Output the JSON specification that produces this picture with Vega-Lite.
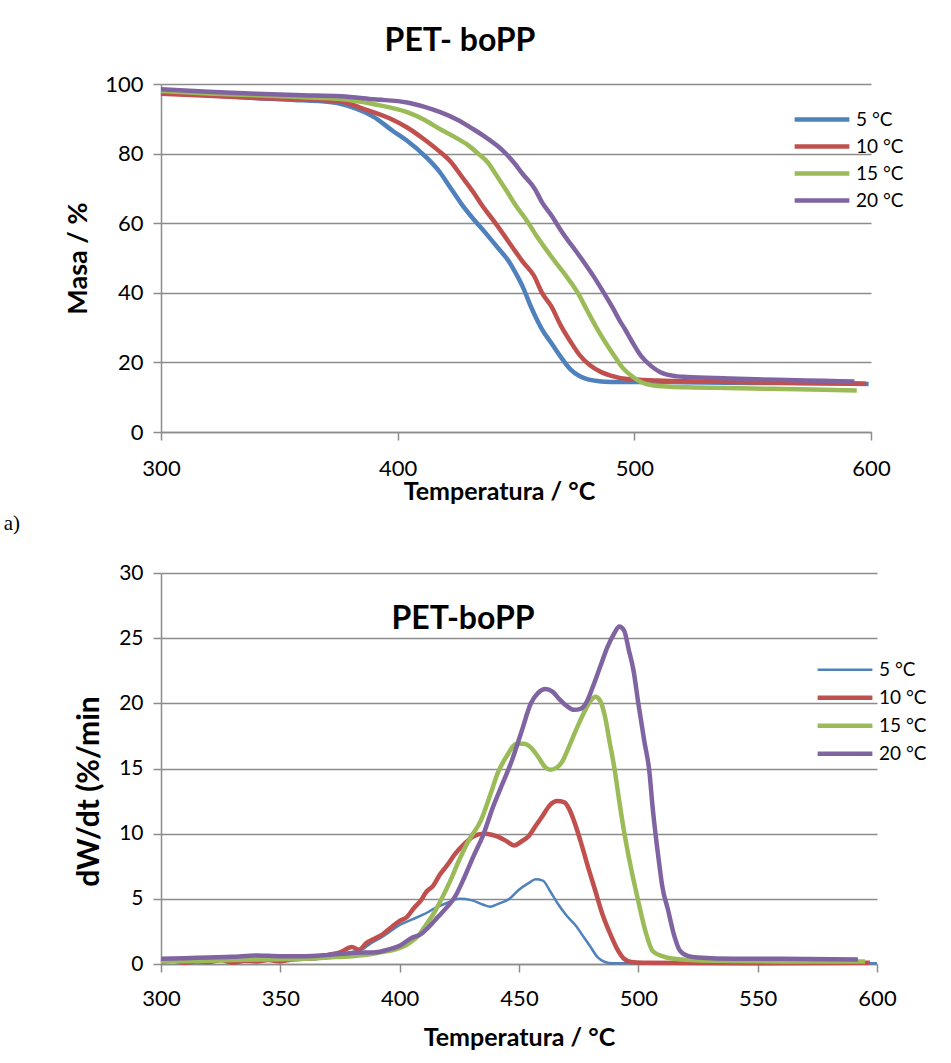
{
"$schema": "https://vega.github.io/schema/vega-lite/v6.json",
"padding": {"left": 3, "top": 25, "right": 0, "bottom": 5},
"background": "white",
"config": {
  "font": "Lato",
  "view": {"stroke": null},
  "axis": {"gridColor": "#8c8c8c", "gridWidth": 1.5, "domainColor": "#8c8c8c", "domainWidth": 1.5, "tickColor": "#8c8c8c", "tickWidth": 1.5, "tickSize": 8, "labelFont": "Lato", "labelColor": "#000", "titleFont": "Lato", "titleFontWeight": "bold", "titleColor": "#000"},
  "legend": {"labelFont": "Lato", "labelFontSize": 19, "labelColor": "#000", "symbolType": "stroke", "title": null}
},
"datasets": {
"mass": [
{"T":300,"v":97.5,"s":"5 °C"},{"T":320,"v":96.8,"s":"5 °C"},{"T":340,"v":96.0,"s":"5 °C"},{"T":360,"v":95.3,"s":"5 °C"},{"T":373,"v":94.7,"s":"5 °C"},{"T":380,"v":93.5,"s":"5 °C"},{"T":390,"v":90.5,"s":"5 °C"},{"T":398,"v":86.5,"s":"5 °C"},{"T":404,"v":83.7,"s":"5 °C"},{"T":412,"v":79,"s":"5 °C"},{"T":418,"v":74.5,"s":"5 °C"},{"T":422,"v":70.5,"s":"5 °C"},{"T":427,"v":65.5,"s":"5 °C"},{"T":432,"v":61.2,"s":"5 °C"},{"T":437,"v":57.3,"s":"5 °C"},{"T":442,"v":53.2,"s":"5 °C"},{"T":447,"v":49,"s":"5 °C"},{"T":450,"v":45.5,"s":"5 °C"},{"T":453,"v":41.5,"s":"5 °C"},{"T":456,"v":36.5,"s":"5 °C"},{"T":458,"v":33.5,"s":"5 °C"},{"T":461,"v":29.5,"s":"5 °C"},{"T":465,"v":25.5,"s":"5 °C"},{"T":469,"v":21.5,"s":"5 °C"},{"T":473,"v":18,"s":"5 °C"},{"T":477,"v":16,"s":"5 °C"},{"T":480,"v":15.2,"s":"5 °C"},{"T":485,"v":14.6,"s":"5 °C"},{"T":490,"v":14.4,"s":"5 °C"},{"T":500,"v":14.4,"s":"5 °C"},{"T":520,"v":14.3,"s":"5 °C"},{"T":550,"v":14.1,"s":"5 °C"},{"T":575,"v":14.0,"s":"5 °C"},{"T":599,"v":13.8,"s":"5 °C"},
{"T":300,"v":97.2,"s":"10 °C"},{"T":320,"v":96.6,"s":"10 °C"},{"T":340,"v":96.0,"s":"10 °C"},{"T":360,"v":95.6,"s":"10 °C"},{"T":376,"v":95.0,"s":"10 °C"},{"T":385,"v":93.0,"s":"10 °C"},{"T":397,"v":90,"s":"10 °C"},{"T":404,"v":87.5,"s":"10 °C"},{"T":411,"v":84.2,"s":"10 °C"},{"T":417,"v":81,"s":"10 °C"},{"T":422.5,"v":77.6,"s":"10 °C"},{"T":427,"v":73.5,"s":"10 °C"},{"T":432,"v":68.9,"s":"10 °C"},{"T":436,"v":64.8,"s":"10 °C"},{"T":441,"v":60.3,"s":"10 °C"},{"T":445,"v":56.5,"s":"10 °C"},{"T":449,"v":52.6,"s":"10 °C"},{"T":453,"v":48.8,"s":"10 °C"},{"T":457.6,"v":44.9,"s":"10 °C"},{"T":461,"v":40,"s":"10 °C"},{"T":465,"v":36,"s":"10 °C"},{"T":469,"v":30.5,"s":"10 °C"},{"T":473,"v":26,"s":"10 °C"},{"T":477,"v":22,"s":"10 °C"},{"T":481,"v":19.3,"s":"10 °C"},{"T":486,"v":17.2,"s":"10 °C"},{"T":490,"v":16.2,"s":"10 °C"},{"T":497,"v":15.2,"s":"10 °C"},{"T":510,"v":14.8,"s":"10 °C"},{"T":540,"v":14.4,"s":"10 °C"},{"T":570,"v":14.1,"s":"10 °C"},{"T":598,"v":13.9,"s":"10 °C"},
{"T":300,"v":98.0,"s":"15 °C"},{"T":320,"v":97.3,"s":"15 °C"},{"T":340,"v":96.8,"s":"15 °C"},{"T":360,"v":96.2,"s":"15 °C"},{"T":376,"v":95.7,"s":"15 °C"},{"T":390,"v":94.2,"s":"15 °C"},{"T":404,"v":91.9,"s":"15 °C"},{"T":411,"v":89.8,"s":"15 °C"},{"T":418,"v":87,"s":"15 °C"},{"T":424,"v":84.8,"s":"15 °C"},{"T":430,"v":82.3,"s":"15 °C"},{"T":434,"v":80,"s":"15 °C"},{"T":438,"v":77.5,"s":"15 °C"},{"T":442,"v":73.5,"s":"15 °C"},{"T":446,"v":69.3,"s":"15 °C"},{"T":450,"v":65,"s":"15 °C"},{"T":455,"v":60.3,"s":"15 °C"},{"T":459,"v":56,"s":"15 °C"},{"T":463,"v":52.2,"s":"15 °C"},{"T":467,"v":48.5,"s":"15 °C"},{"T":471,"v":45,"s":"15 °C"},{"T":476,"v":40.1,"s":"15 °C"},{"T":480,"v":35,"s":"15 °C"},{"T":484,"v":30,"s":"15 °C"},{"T":488,"v":25.5,"s":"15 °C"},{"T":491.5,"v":21.9,"s":"15 °C"},{"T":495,"v":18.5,"s":"15 °C"},{"T":499,"v":16,"s":"15 °C"},{"T":503,"v":14.3,"s":"15 °C"},{"T":507,"v":13.5,"s":"15 °C"},{"T":515,"v":13.0,"s":"15 °C"},{"T":525,"v":12.8,"s":"15 °C"},{"T":550,"v":12.5,"s":"15 °C"},{"T":575,"v":12.2,"s":"15 °C"},{"T":594,"v":11.9,"s":"15 °C"},
{"T":300,"v":98.5,"s":"20 °C"},{"T":320,"v":97.8,"s":"20 °C"},{"T":340,"v":97.2,"s":"20 °C"},{"T":360,"v":96.8,"s":"20 °C"},{"T":376,"v":96.5,"s":"20 °C"},{"T":390,"v":95.6,"s":"20 °C"},{"T":404,"v":94.7,"s":"20 °C"},{"T":411,"v":93.5,"s":"20 °C"},{"T":418,"v":91.9,"s":"20 °C"},{"T":425,"v":89.8,"s":"20 °C"},{"T":432,"v":87,"s":"20 °C"},{"T":437,"v":84.8,"s":"20 °C"},{"T":442,"v":82.3,"s":"20 °C"},{"T":446,"v":79.8,"s":"20 °C"},{"T":449,"v":77.5,"s":"20 °C"},{"T":453,"v":74,"s":"20 °C"},{"T":458,"v":69.8,"s":"20 °C"},{"T":461,"v":66,"s":"20 °C"},{"T":465,"v":62.2,"s":"20 °C"},{"T":469,"v":57.9,"s":"20 °C"},{"T":472,"v":55,"s":"20 °C"},{"T":475,"v":52.3,"s":"20 °C"},{"T":479,"v":48.5,"s":"20 °C"},{"T":483,"v":44.5,"s":"20 °C"},{"T":487,"v":40.1,"s":"20 °C"},{"T":491,"v":35.5,"s":"20 °C"},{"T":494,"v":31.8,"s":"20 °C"},{"T":496,"v":29.6,"s":"20 °C"},{"T":499,"v":26,"s":"20 °C"},{"T":503,"v":21.7,"s":"20 °C"},{"T":507,"v":19,"s":"20 °C"},{"T":511,"v":17.2,"s":"20 °C"},{"T":516,"v":16.2,"s":"20 °C"},{"T":522,"v":15.8,"s":"20 °C"},{"T":540,"v":15.4,"s":"20 °C"},{"T":560,"v":15,"s":"20 °C"},{"T":580,"v":14.7,"s":"20 °C"},{"T":593,"v":14.5,"s":"20 °C"}
],
"dtg": [
{"T":300,"v":0.2,"s":"5 °C"},{"T":310,"v":0.25,"s":"5 °C"},{"T":320,"v":0.2,"s":"5 °C"},{"T":330,"v":0.3,"s":"5 °C"},{"T":340,"v":0.25,"s":"5 °C"},{"T":350,"v":0.3,"s":"5 °C"},{"T":360,"v":0.35,"s":"5 °C"},{"T":370,"v":0.45,"s":"5 °C"},{"T":375,"v":0.6,"s":"5 °C"},{"T":380,"v":0.9,"s":"5 °C"},{"T":385,"v":1.2,"s":"5 °C"},{"T":388,"v":1.6,"s":"5 °C"},{"T":392,"v":2.0,"s":"5 °C"},{"T":396,"v":2.5,"s":"5 °C"},{"T":400,"v":3.0,"s":"5 °C"},{"T":405,"v":3.4,"s":"5 °C"},{"T":410,"v":3.8,"s":"5 °C"},{"T":415,"v":4.3,"s":"5 °C"},{"T":420,"v":4.7,"s":"5 °C"},{"T":425,"v":5.0,"s":"5 °C"},{"T":430,"v":4.9,"s":"5 °C"},{"T":435,"v":4.55,"s":"5 °C"},{"T":438,"v":4.4,"s":"5 °C"},{"T":441,"v":4.6,"s":"5 °C"},{"T":446,"v":5.0,"s":"5 °C"},{"T":450,"v":5.7,"s":"5 °C"},{"T":454,"v":6.2,"s":"5 °C"},{"T":457,"v":6.5,"s":"5 °C"},{"T":460,"v":6.4,"s":"5 °C"},{"T":463,"v":5.6,"s":"5 °C"},{"T":466,"v":4.7,"s":"5 °C"},{"T":470,"v":3.7,"s":"5 °C"},{"T":474,"v":2.9,"s":"5 °C"},{"T":477,"v":2.1,"s":"5 °C"},{"T":480,"v":1.3,"s":"5 °C"},{"T":483,"v":0.5,"s":"5 °C"},{"T":486,"v":0.15,"s":"5 °C"},{"T":489,"v":0.05,"s":"5 °C"},{"T":500,"v":0.05,"s":"5 °C"},{"T":550,"v":0.05,"s":"5 °C"},{"T":600,"v":0.05,"s":"5 °C"},
{"T":300,"v":0.15,"s":"10 °C"},{"T":305,"v":0.25,"s":"10 °C"},{"T":310,"v":0.1,"s":"10 °C"},{"T":315,"v":0.2,"s":"10 °C"},{"T":320,"v":0.15,"s":"10 °C"},{"T":325,"v":0.3,"s":"10 °C"},{"T":330,"v":0.1,"s":"10 °C"},{"T":335,"v":0.25,"s":"10 °C"},{"T":340,"v":0.2,"s":"10 °C"},{"T":345,"v":0.3,"s":"10 °C"},{"T":350,"v":0.2,"s":"10 °C"},{"T":355,"v":0.35,"s":"10 °C"},{"T":360,"v":0.4,"s":"10 °C"},{"T":365,"v":0.45,"s":"10 °C"},{"T":370,"v":0.7,"s":"10 °C"},{"T":375,"v":0.9,"s":"10 °C"},{"T":380,"v":1.3,"s":"10 °C"},{"T":383,"v":1.1,"s":"10 °C"},{"T":386,"v":1.6,"s":"10 °C"},{"T":390,"v":2.0,"s":"10 °C"},{"T":393,"v":2.3,"s":"10 °C"},{"T":397,"v":2.9,"s":"10 °C"},{"T":400,"v":3.3,"s":"10 °C"},{"T":403,"v":3.6,"s":"10 °C"},{"T":406,"v":4.3,"s":"10 °C"},{"T":409,"v":4.9,"s":"10 °C"},{"T":411,"v":5.5,"s":"10 °C"},{"T":414,"v":6.0,"s":"10 °C"},{"T":417,"v":6.9,"s":"10 °C"},{"T":420,"v":7.6,"s":"10 °C"},{"T":423,"v":8.4,"s":"10 °C"},{"T":427,"v":9.2,"s":"10 °C"},{"T":431,"v":9.8,"s":"10 °C"},{"T":435,"v":10.0,"s":"10 °C"},{"T":439,"v":9.9,"s":"10 °C"},{"T":442,"v":9.7,"s":"10 °C"},{"T":445,"v":9.4,"s":"10 °C"},{"T":448,"v":9.1,"s":"10 °C"},{"T":451,"v":9.4,"s":"10 °C"},{"T":454,"v":9.8,"s":"10 °C"},{"T":457,"v":10.6,"s":"10 °C"},{"T":460,"v":11.4,"s":"10 °C"},{"T":463,"v":12.2,"s":"10 °C"},{"T":466,"v":12.5,"s":"10 °C"},{"T":469,"v":12.4,"s":"10 °C"},{"T":471,"v":11.9,"s":"10 °C"},{"T":473,"v":11.0,"s":"10 °C"},{"T":476,"v":9.3,"s":"10 °C"},{"T":479,"v":7.4,"s":"10 °C"},{"T":482,"v":5.6,"s":"10 °C"},{"T":485,"v":3.8,"s":"10 °C"},{"T":488,"v":2.4,"s":"10 °C"},{"T":491,"v":1.2,"s":"10 °C"},{"T":494,"v":0.4,"s":"10 °C"},{"T":497,"v":0.15,"s":"10 °C"},{"T":502,"v":0.1,"s":"10 °C"},{"T":550,"v":0.05,"s":"10 °C"},{"T":597,"v":0.1,"s":"10 °C"},
{"T":300,"v":0.2,"s":"15 °C"},{"T":320,"v":0.25,"s":"15 °C"},{"T":340,"v":0.35,"s":"15 °C"},{"T":360,"v":0.4,"s":"15 °C"},{"T":370,"v":0.5,"s":"15 °C"},{"T":380,"v":0.6,"s":"15 °C"},{"T":386,"v":0.7,"s":"15 °C"},{"T":392,"v":0.9,"s":"15 °C"},{"T":398,"v":1.1,"s":"15 °C"},{"T":404,"v":1.6,"s":"15 °C"},{"T":408,"v":2.2,"s":"15 °C"},{"T":411,"v":3.0,"s":"15 °C"},{"T":414,"v":3.8,"s":"15 °C"},{"T":417,"v":4.8,"s":"15 °C"},{"T":421,"v":6.3,"s":"15 °C"},{"T":425,"v":8.0,"s":"15 °C"},{"T":429,"v":9.5,"s":"15 °C"},{"T":434,"v":11.0,"s":"15 °C"},{"T":438,"v":13.0,"s":"15 °C"},{"T":441,"v":14.6,"s":"15 °C"},{"T":445,"v":16.0,"s":"15 °C"},{"T":449,"v":16.9,"s":"15 °C"},{"T":452,"v":16.9,"s":"15 °C"},{"T":455,"v":16.6,"s":"15 °C"},{"T":458,"v":15.9,"s":"15 °C"},{"T":461,"v":15.1,"s":"15 °C"},{"T":463,"v":14.9,"s":"15 °C"},{"T":466,"v":15.1,"s":"15 °C"},{"T":468,"v":15.5,"s":"15 °C"},{"T":471,"v":16.7,"s":"15 °C"},{"T":474,"v":18.0,"s":"15 °C"},{"T":477,"v":19.2,"s":"15 °C"},{"T":480,"v":20.2,"s":"15 °C"},{"T":482,"v":20.5,"s":"15 °C"},{"T":484,"v":20.2,"s":"15 °C"},{"T":486,"v":19.0,"s":"15 °C"},{"T":488,"v":17.0,"s":"15 °C"},{"T":490,"v":15.0,"s":"15 °C"},{"T":492,"v":12.5,"s":"15 °C"},{"T":494,"v":10.2,"s":"15 °C"},{"T":497,"v":7.3,"s":"15 °C"},{"T":500,"v":4.8,"s":"15 °C"},{"T":503,"v":2.5,"s":"15 °C"},{"T":506,"v":1.0,"s":"15 °C"},{"T":510,"v":0.6,"s":"15 °C"},{"T":515,"v":0.4,"s":"15 °C"},{"T":530,"v":0.25,"s":"15 °C"},{"T":560,"v":0.2,"s":"15 °C"},{"T":595,"v":0.2,"s":"15 °C"},
{"T":300,"v":0.4,"s":"20 °C"},{"T":310,"v":0.45,"s":"20 °C"},{"T":320,"v":0.5,"s":"20 °C"},{"T":330,"v":0.55,"s":"20 °C"},{"T":340,"v":0.65,"s":"20 °C"},{"T":350,"v":0.6,"s":"20 °C"},{"T":360,"v":0.6,"s":"20 °C"},{"T":370,"v":0.7,"s":"20 °C"},{"T":380,"v":0.85,"s":"20 °C"},{"T":390,"v":0.9,"s":"20 °C"},{"T":395,"v":1.1,"s":"20 °C"},{"T":400,"v":1.4,"s":"20 °C"},{"T":405,"v":2.0,"s":"20 °C"},{"T":409,"v":2.3,"s":"20 °C"},{"T":412,"v":2.8,"s":"20 °C"},{"T":416,"v":3.6,"s":"20 °C"},{"T":420,"v":4.4,"s":"20 °C"},{"T":423,"v":5.1,"s":"20 °C"},{"T":427,"v":6.6,"s":"20 °C"},{"T":431,"v":8.3,"s":"20 °C"},{"T":435,"v":9.9,"s":"20 °C"},{"T":439,"v":12.0,"s":"20 °C"},{"T":443,"v":13.8,"s":"20 °C"},{"T":447,"v":15.6,"s":"20 °C"},{"T":451,"v":17.8,"s":"20 °C"},{"T":455,"v":20.0,"s":"20 °C"},{"T":458,"v":20.8,"s":"20 °C"},{"T":461,"v":21.1,"s":"20 °C"},{"T":464,"v":20.9,"s":"20 °C"},{"T":467,"v":20.3,"s":"20 °C"},{"T":470,"v":19.8,"s":"20 °C"},{"T":473,"v":19.5,"s":"20 °C"},{"T":476,"v":19.6,"s":"20 °C"},{"T":478,"v":20.0,"s":"20 °C"},{"T":481,"v":21.3,"s":"20 °C"},{"T":484,"v":22.8,"s":"20 °C"},{"T":487,"v":24.3,"s":"20 °C"},{"T":490,"v":25.4,"s":"20 °C"},{"T":492,"v":25.9,"s":"20 °C"},{"T":494,"v":25.6,"s":"20 °C"},{"T":496,"v":24.1,"s":"20 °C"},{"T":498,"v":22.5,"s":"20 °C"},{"T":500,"v":20.0,"s":"20 °C"},{"T":502.5,"v":17.1,"s":"20 °C"},{"T":504.6,"v":14.8,"s":"20 °C"},{"T":506,"v":12.0,"s":"20 °C"},{"T":508.6,"v":7.9,"s":"20 °C"},{"T":510,"v":6.0,"s":"20 °C"},{"T":512.5,"v":4.1,"s":"20 °C"},{"T":515,"v":2.2,"s":"20 °C"},{"T":517.5,"v":1.0,"s":"20 °C"},{"T":521,"v":0.6,"s":"20 °C"},{"T":525,"v":0.5,"s":"20 °C"},{"T":540,"v":0.4,"s":"20 °C"},{"T":560,"v":0.4,"s":"20 °C"},{"T":592,"v":0.35,"s":"20 °C"}
]
},
"spacing": 28,
"vconcat": [
 {
  "title": {"text": "a)", "orient": "bottom", "anchor": "start", "font": "Liberation Serif", "fontSize": 21, "fontWeight": "normal", "dx": -61, "offset": 9},
  "vconcat": [
   {
    "width": 710, "height": 348,
    "title": {"text": "PET- boPP", "font": "Lato", "fontSize": 32, "fontWeight": "bold", "anchor": "middle", "dx": -56, "offset": 15},
    "data": {"name": "mass"},
    "mark": {"type": "line", "strokeWidth": 4.5, "interpolate": "monotone"},
    "encoding": {
      "x": {"field": "T", "type": "quantitative", "scale": {"domain": [300, 600]}, "axis": {"values": [300, 400, 500, 600], "grid": false, "labelFlush": false, "labelFontSize": 22, "labelPadding": 18, "title": "Temperatura / °C", "titleFontSize": 25, "titlePadding": 0, "titleX": 338, "titleAnchor": "middle"}},
      "y": {"field": "v", "type": "quantitative", "scale": {"domain": [0, 100]}, "axis": {"values": [0, 20, 40, 60, 80, 100], "labelFontSize": 22, "labelPadding": 10, "title": "Masa / %", "titleFontSize": 27, "titlePadding": 12}},
      "color": {"field": "s", "type": "nominal", "sort": ["5 °C", "10 °C", "15 °C", "20 °C"], "scale": {"domain": ["5 °C", "10 °C", "15 °C", "20 °C"], "range": ["#4F81BD", "#C0504D", "#9BBB59", "#8064A2"]}, "legend": {"orient": "none", "legendX": 631, "legendY": 22, "symbolSize": 3000, "symbolStrokeWidth": 4.5, "clipHeight": 27, "rowPadding": 0, "labelOffset": 4}}
    }
   }
  ]
 },
 {
  "width": 716, "height": 391,
  "title": {"text": "PET-boPP", "font": "Lato", "fontSize": 32, "fontWeight": "bold", "anchor": "middle", "dx": -56, "offset": -74},
  "data": {"name": "dtg"},
  "mark": {"type": "line", "interpolate": "monotone"},
  "encoding": {
    "x": {"field": "T", "type": "quantitative", "scale": {"domain": [300, 600]}, "axis": {"values": [300, 350, 400, 450, 500, 550, 600], "grid": false, "labelFlush": false, "labelFontSize": 22, "labelPadding": 16, "title": "Temperatura / °C", "titleFontSize": 25, "titlePadding": 16}},
    "y": {"field": "v", "type": "quantitative", "scale": {"domain": [0, 30]}, "axis": {"values": [0, 5, 10, 15, 20, 25, 30], "labelFontSize": 21, "labelPadding": 10, "title": "dW/dt (%/min", "titleFontSize": 30, "titlePadding": 14, "titleY": 218}},
    "color": {"field": "s", "type": "nominal", "sort": ["5 °C", "10 °C", "15 °C", "20 °C"], "scale": {"domain": ["5 °C", "10 °C", "15 °C", "20 °C"], "range": ["#4F81BD", "#C0504D", "#9BBB59", "#8064A2"]}, "legend": {"orient": "none", "legendX": 654, "legendY": 83, "symbolSize": 3000, "clipHeight": 27.5, "rowPadding": 0, "labelOffset": 4}},
    "strokeWidth": {"field": "s", "type": "nominal", "sort": ["5 °C", "10 °C", "15 °C", "20 °C"], "scale": {"type": "ordinal", "domain": ["5 °C", "10 °C", "15 °C", "20 °C"], "range": [2.5, 4.5, 4.5, 4.5]}, "legend": {"orient": "none", "legendX": 654, "legendY": 83, "symbolSize": 3000, "clipHeight": 27.5, "rowPadding": 0, "labelOffset": 4}}
  }
 }
],
"resolve": {"scale": {"color": "independent", "strokeWidth": "independent"}, "legend": {"color": "independent"}}
}
